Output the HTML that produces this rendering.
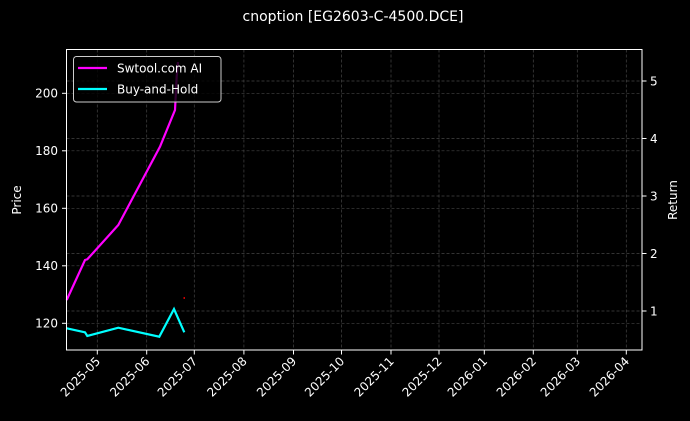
<!DOCTYPE html>
<html><head><meta charset="utf-8"><style>body{margin:0;background:#000}svg{display:block}</style></head>
<body>
<svg width="690" height="421" xmlns="http://www.w3.org/2000/svg" font-family="DejaVu Sans, Liberation Sans, sans-serif" fill="#fff">
<rect width="690" height="421" fill="#000"/>
<text x="353" y="21" font-size="14" text-anchor="middle">cnoption [EG2603-C-4500.DCE]</text>
<g stroke="#444" stroke-width="0.7" stroke-dasharray="3,2">
<line x1="66.5" x2="642" y1="93.3" y2="93.3"/><line x1="66.5" x2="642" y1="150.8" y2="150.8"/><line x1="66.5" x2="642" y1="208.3" y2="208.3"/><line x1="66.5" x2="642" y1="265.8" y2="265.8"/><line x1="66.5" x2="642" y1="323.3" y2="323.3"/>
<line x1="66.5" x2="642" y1="81" y2="81"/><line x1="66.5" x2="642" y1="138.5" y2="138.5"/><line x1="66.5" x2="642" y1="196" y2="196"/><line x1="66.5" x2="642" y1="253.5" y2="253.5"/><line x1="66.5" x2="642" y1="311" y2="311"/>
<line y1="49.5" y2="350" x1="97.3" x2="97.3"/><line y1="49.5" y2="350" x1="146.7" x2="146.7"/><line y1="49.5" y2="350" x1="194.3" x2="194.3"/><line y1="49.5" y2="350" x1="243.9" x2="243.9"/><line y1="49.5" y2="350" x1="293.5" x2="293.5"/><line y1="49.5" y2="350" x1="341.5" x2="341.5"/><line y1="49.5" y2="350" x1="391" x2="391"/><line y1="49.5" y2="350" x1="439" x2="439"/><line y1="49.5" y2="350" x1="484.3" x2="484.3"/><line y1="49.5" y2="350" x1="533.3" x2="533.3"/><line y1="49.5" y2="350" x1="577.3" x2="577.3"/><line y1="49.5" y2="350" x1="626.3" x2="626.3"/>
</g>
<polyline fill="none" stroke="#ff00ff" stroke-width="2.2" points="66.7,300 85,260 87.3,259.3 118.3,225 160,146.7 175,110 176.7,76.7 178,62"/>
<polyline fill="none" stroke="#00ffff" stroke-width="2.2" points="66.7,328.3 85,332.3 87.3,336 118.3,327.7 159.3,336.7 174,309 184.3,332.3"/>
<rect x="183.5" y="297" width="1.5" height="2" fill="#c00"/>
<rect x="66.5" y="49.5" width="575.5" height="300.5" fill="none" stroke="#fff" stroke-width="1"/>
<g stroke="#fff" stroke-width="1">
<line x1="62" x2="66.5" y1="93.3" y2="93.3"/><line x1="62" x2="66.5" y1="150.8" y2="150.8"/><line x1="62" x2="66.5" y1="208.3" y2="208.3"/><line x1="62" x2="66.5" y1="265.8" y2="265.8"/><line x1="62" x2="66.5" y1="323.3" y2="323.3"/>
<line x1="642" x2="646.5" y1="81" y2="81"/><line x1="642" x2="646.5" y1="138.5" y2="138.5"/><line x1="642" x2="646.5" y1="196" y2="196"/><line x1="642" x2="646.5" y1="253.5" y2="253.5"/><line x1="642" x2="646.5" y1="311" y2="311"/>
<line y1="350" y2="354.5" x1="97.3" x2="97.3"/><line y1="350" y2="354.5" x1="146.7" x2="146.7"/><line y1="350" y2="354.5" x1="194.3" x2="194.3"/><line y1="350" y2="354.5" x1="243.9" x2="243.9"/><line y1="350" y2="354.5" x1="293.5" x2="293.5"/><line y1="350" y2="354.5" x1="341.5" x2="341.5"/><line y1="350" y2="354.5" x1="391" x2="391"/><line y1="350" y2="354.5" x1="439" x2="439"/><line y1="350" y2="354.5" x1="484.3" x2="484.3"/><line y1="350" y2="354.5" x1="533.3" x2="533.3"/><line y1="350" y2="354.5" x1="577.3" x2="577.3"/><line y1="350" y2="354.5" x1="626.3" x2="626.3"/>
</g>
<g font-size="12" text-anchor="end">
<text x="58" y="97.5">200</text><text x="58" y="155">180</text><text x="58" y="212.5">160</text><text x="58" y="270">140</text><text x="58" y="327.5">120</text>
</g>
<g font-size="12">
<text x="650" y="85.5">5</text><text x="650" y="143">4</text><text x="650" y="200.5">3</text><text x="650" y="258">2</text><text x="650" y="315.5">1</text>
</g>
<text transform="translate(21,200) rotate(-90)" font-size="12" text-anchor="middle">Price</text>
<text transform="translate(677,200) rotate(-90)" font-size="12" text-anchor="middle">Return</text>
<g font-size="12" text-anchor="end">
<text transform="translate(101,362) rotate(-45)">2025-05</text>
<text transform="translate(150.4,362) rotate(-45)">2025-06</text>
<text transform="translate(198,362) rotate(-45)">2025-07</text>
<text transform="translate(247.6,362) rotate(-45)">2025-08</text>
<text transform="translate(297.2,362) rotate(-45)">2025-09</text>
<text transform="translate(345.2,362) rotate(-45)">2025-10</text>
<text transform="translate(394.7,362) rotate(-45)">2025-11</text>
<text transform="translate(442.7,362) rotate(-45)">2025-12</text>
<text transform="translate(488,362) rotate(-45)">2026-01</text>
<text transform="translate(537,362) rotate(-45)">2026-02</text>
<text transform="translate(581,362) rotate(-45)">2026-03</text>
<text transform="translate(630,362) rotate(-45)">2026-04</text>
</g>
<rect x="73.5" y="56.5" width="147.5" height="45.5" rx="3" fill="#000" fill-opacity="0.8" stroke="#ccc" stroke-width="1"/>
<line x1="78" x2="107" y1="68" y2="68" stroke="#ff00ff" stroke-width="2.2"/>
<line x1="78" x2="107" y1="89" y2="89" stroke="#00ffff" stroke-width="2.2"/>
<text x="117" y="72.5" font-size="12">Swtool.com AI</text>
<text x="117" y="93.5" font-size="12">Buy-and-Hold</text>
</svg>
</body></html>
